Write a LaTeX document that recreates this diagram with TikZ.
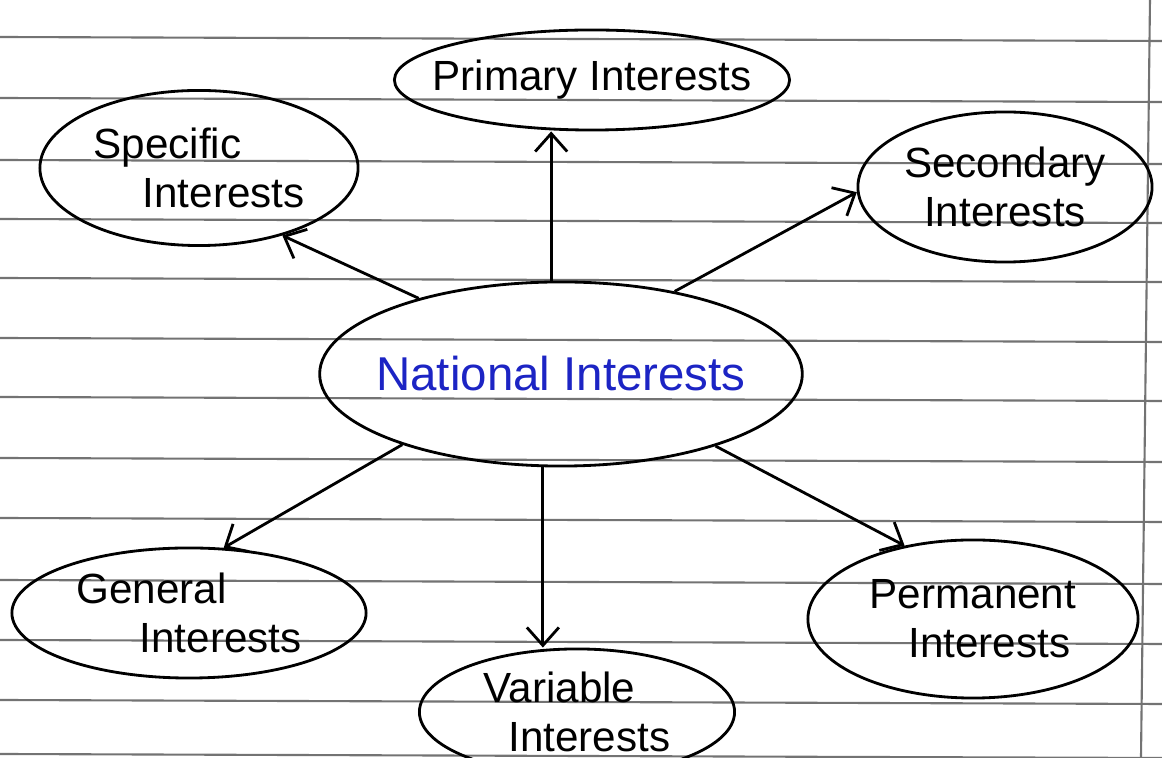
\documentclass[tikz,border=0pt]{standalone}
\usepackage{fontspec}
\setmainfont{Liberation Sans}
\usetikzlibrary{arrows.meta}
\usetikzlibrary{shapes.geometric}
\definecolor{inkblue}{RGB}{28,36,196}
\tikzset{
  bubble/.style={draw, thick, ellipse, inner sep=0pt, align=left, font=\fontsize{12}{14}\selectfont},
  arr/.style={thick, -{Straight Barb[length=1.8mm, width=3.2mm]}},
  ruling/.style={black!55, line width=0.6pt}
}

\begin{document}
\begin{tikzpicture}[x=0.01cm, y=-0.01cm]
    \useasboundingbox (0, 0) rectangle (1162, 758);
    \clip (0, 0) rectangle (1162, 758);
    % ruled page
    \foreach \y in {37, 98, 160, 219, 278, 338, 397, 458, 518, 580, 640, 700, 754}
        \draw[ruling] (0, \y) -- (1162, \y+4);
    \draw[ruling] (1150, 0) -- (1141, 758);

    \node[bubble, minimum width=4.78cm, minimum height=1.84cm, inner xsep=-4pt, text=inkblue,
          font=\fontsize{13.5}{16}\selectfont] (nat) at (561, 374) {National Interests};
    \node[bubble, minimum width=3.95cm, minimum height=1cm, inner xsep=-6pt] (pri) at (592, 80) {Primary Interests};
    \node[bubble, minimum width=3.18cm, minimum height=1.55cm] (spec) at (199, 168) {Specific\\\hspace*{14pt}Interests};
    \node[bubble, minimum width=2.94cm, minimum height=1.5cm, align=center] (sec) at (1005, 187) {Secondary\\Interests};
    \node[bubble, minimum width=3.54cm, minimum height=1.3cm] (gen) at (189, 613) {General\\\hspace*{18pt}Interests};
    \node[bubble, minimum width=3.15cm, minimum height=1.26cm] (var) at (577, 712) {Variable\\\hspace*{7pt}Interests};
    \node[bubble, minimum width=3.3cm, minimum height=1.58cm] (perm) at (973, 619) {Permanent\\\hspace*{11pt}Interests};

    \draw[arr] (nat.96) -- (nat.96 |- pri.south);
    \draw[arr] (nat.152) -- (spec.321);
    \draw[arr] (nat.36) -- (sec.182);
    \draw[arr] (nat.204) -- (gen.62);
    \draw[arr] (nat.259) -- (nat.259 |- var.north);
    \draw[arr] (nat.335) -- (perm.133);
\end{tikzpicture}
\end{document}
